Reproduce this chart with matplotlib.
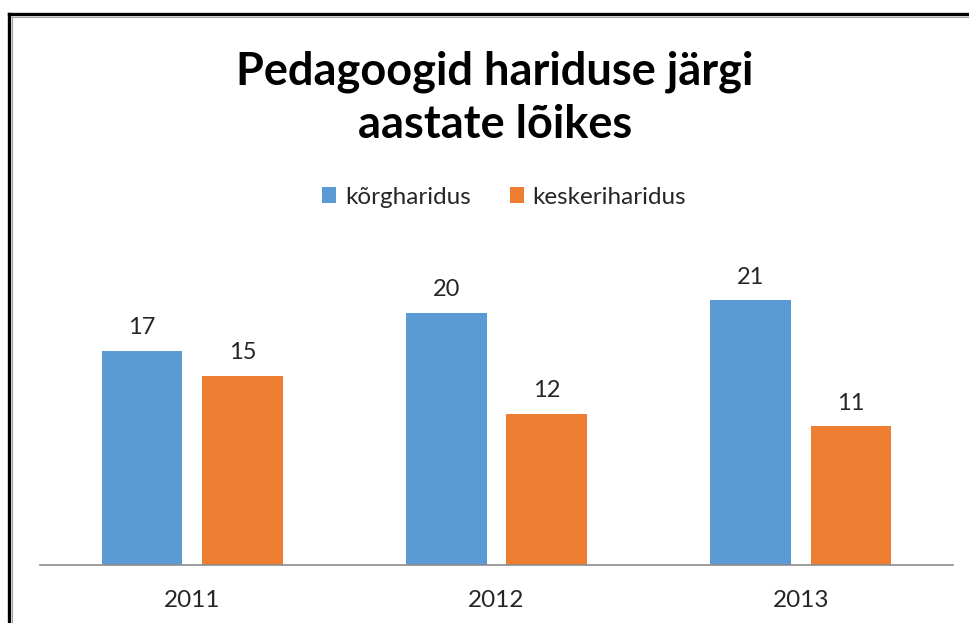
import numpy as np
import matplotlib
matplotlib.use("Agg")
from matplotlib import pyplot as plt
from matplotlib.lines import Line2D

years = ["2011", "2012", "2013"]
series_names = ["kõrgharidus", "keskeriharidus"]
korg = [17, 20, 21]
kesker = [15, 12, 11]
colors = ["#5B9BD5", "#ED7D31"]

plt.rcParams['font.family'] = ['Lato', 'DejaVu Sans']

W, H = 970, 623
fig = plt.figure(figsize=(W / 100, H / 100), dpi=100)

# frame (black outer + gray inner), only top and left visible
fig.add_artist(Line2D([9.5 / W, 1], [1 - 14 / H, 1 - 14 / H], color="black", lw=2.4))
fig.add_artist(Line2D([9.5 / W, 9.5 / W], [0, 1 - 14 / H], color="black", lw=2.4))
fig.add_artist(Line2D([12.5 / W, 1], [1 - 16.5 / H, 1 - 16.5 / H], color="#a0a0a0", lw=0.8))
fig.add_artist(Line2D([12.5 / W, 12.5 / W], [0, 1 - 16.5 / H], color="#a0a0a0", lw=0.8))

ax_left, ax_right = 40, 953
ax_bottom, ax_top = 565, 250
ax = fig.add_axes([ax_left / W, 1 - ax_bottom / H, (ax_right - ax_left) / W, (ax_bottom - ax_top) / H])

x = np.arange(len(years))
bw = 0.265
gap = 0.065
pos1 = x - bw / 2 - gap / 2
pos2 = x + bw / 2 + gap / 2
b1 = ax.bar(pos1, korg, bw, color=colors[0], label=series_names[0])
b2 = ax.bar(pos2, kesker, bw, color=colors[1], label=series_names[1])
for bars, vals in ((b1, korg), (b2, kesker)):
    for rect, v in zip(bars, vals):
        ax.text(rect.get_x() + rect.get_width() / 2, v + 1.0, str(v),
                ha="center", va="bottom", fontsize=17, color="#262626")

ax.set_xlim(-0.5, 2.5)
ax.set_ylim(0, 25)
ax.set_xticks(x)
ax.set_xticklabels(years, fontsize=17.5, color="#262626")
ax.tick_params(axis="x", length=0, pad=18)
ax.set_yticks([])
for s in ["top", "right", "left"]:
    ax.spines[s].set_visible(False)
ax.spines["bottom"].set_color("#8c8c8c")
ax.spines["bottom"].set_linewidth(1.2)

fig.text(495 / W, 1 - 98 / H, "Pedagoogid hariduse järgi\naastate lõikes", ha="center", va="center",
         fontsize=32.5, fontweight="bold", linespacing=1.32, color="black")

fig.legend(handles=[b1, b2], loc="center", bbox_to_anchor=(504 / W, 1 - 197 / H), ncol=2,
           frameon=False, fontsize=17.5, handlelength=0.6, handleheight=0.6,
           handletextpad=0.35, columnspacing=1.6, labelcolor="#262626")

fig.savefig("out.png", dpi=100)
